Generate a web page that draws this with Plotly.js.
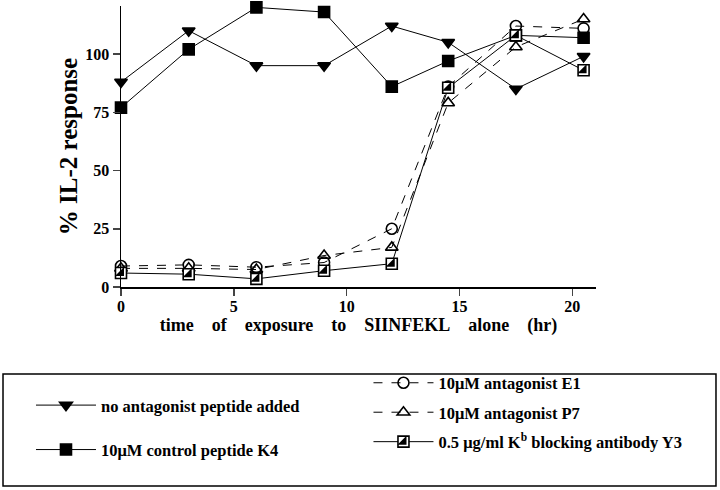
<!DOCTYPE html>
<html>
<head>
<meta charset="utf-8">
<script src="https://cdn.plot.ly/plotly-3.0.1.min.js"></script>
<style>html,body{margin:0;padding:0;background:#fff;}#chart{width:720px;height:490px;}</style>
</head>
<body>
<div id="chart"></div>
<script>
// time of exposure (hr)
const hours = [0, 3, 6, 9, 12, 14.5, 17.5, 20.5];
// % IL-2 response per condition
const noAntagonist = [88, 110, 95, 95, 112, 105, 85, 99];
const controlK4 = [77, 102, 120, 118, 86, 97, 108, 107];
const antagonistE1 = [9, 9.5, 8.5, 10.5, 25, 86, 112, 111];
const antagonistP7 = [8, 8, 7.5, 13.5, 17, 79, 103, 115];
const antibodyY3 = [6, 5.5, 3.5, 7, 10, 85.5, 108, 93];
const seriesNames = [
  'no antagonist peptide added',
  '10\u03bcM control peptide K4',
  '10\u03bcM antagonist E1',
  '10\u03bcM antagonist P7',
  '0.5 \u03bcg/ml K<sup>b</sup> blocking antibody Y3'
];
const xTicks = [0, 5, 10, 15, 20];
const yTicks = [0, 25, 50, 75, 100];

const FONT = '"Liberation Serif", "DejaVu Serif", serif';
const ms = 11;
function tr(y, name, symbol, dash, legend, group, extra) {
  return Object.assign({
    type: 'scatter', mode: 'lines+markers', x: hours, y: y, name: name,
    line: {color: '#000', width: 1, dash: dash},
    marker: {symbol: symbol, size: ms, color: '#000', line: {color: '#000', width: 1.6}},
    cliponaxis: false, legend: legend, legendgroup: group
  }, extra || {});
}
const traces = [
  tr(noAntagonist, seriesNames[0], 'triangle-down', 'solid', 'legend', 'a'),
  tr(controlK4, seriesNames[1], 'square', 'solid', 'legend', 'b'),
  tr(antagonistE1, seriesNames[2], 'circle-open', 'dash', 'legend2', 'c', {marker: {symbol: 'circle-open', size: ms, color: '#000', line: {width: 1.6}}}),
  tr(antagonistP7, seriesNames[3], 'triangle-up-open', 'dash', 'legend2', 'd', {marker: {symbol: 'triangle-up-open', size: ms, color: '#000', line: {width: 1.6}}}),
  tr(antibodyY3, seriesNames[4], 'square', 'solid', 'legend2', 'e', {marker: {symbol: 'square', size: ms, color: '#fff', line: {color: '#000', width: 1.6}}}),
  {type: 'scatter', mode: 'markers', x: hours, y: antibodyY3, name: '\u00a0', legend: 'legend3',
   marker: {symbol: 'triangle-se', size: ms - 1, color: '#000', line: {width: 0}}, cliponaxis: false}
];

const legFont = {family: FONT, size: 16.5, color: '#000', weight: 'bold'};
const layout = {
  width: 720, height: 490,
  margin: {l: 121, r: 124, t: 6, b: 203},
  paper_bgcolor: '#fff', plot_bgcolor: '#fff',
  font: {family: FONT, color: '#000'},
  xaxis: {
    range: [0, 21.05], tickvals: xTicks, ticks: 'outside', ticklen: 7, tickwidth: 1.5, ticklabelstandoff: -3,
    showline: true, linewidth: 1.5, linecolor: '#000', showgrid: false, zeroline: false,
    tickfont: {family: FONT, size: 16, weight: 'bold'},
    title: {text: 'time\u2003of\u2003exposure\u2003to\u2003SIINFEKL\u2003alone\u2003(hr)', font: {family: FONT, size: 18, weight: 'bold'}, standoff: 0}
  },
  yaxis: {
    range: [0, 120.6], tickvals: yTicks, ticks: 'outside', ticklen: 7, tickwidth: 1.5,
    showline: true, linewidth: 1.5, linecolor: '#000', showgrid: false, zeroline: false,
    tickfont: {family: FONT, size: 16, weight: 'bold'},
    title: {text: '% IL-2 response\u2002\u2009', font: {family: FONT, size: 25, weight: 'bold'}, standoff: 0}
  },
  legend: {x: -0.1895, xanchor: 'left', y: -0.359, yanchor: 'top', bgcolor: 'rgba(0,0,0,0)', font: legFont, tracegroupgap: 20, itemwidth: 60},
  legend2: {x: 0.521, xanchor: 'left', y: -0.614, yanchor: 'bottom', bgcolor: 'rgba(0,0,0,0)', font: legFont, tracegroupgap: 5, itemwidth: 60},
  legend3: {x: 0.521, xanchor: 'left', y: -0.614, yanchor: 'bottom', bgcolor: 'rgba(0,0,0,0)', font: legFont, itemwidth: 60},
  shapes: [{type: 'rect', xref: 'paper', yref: 'paper', x0: -0.2484, x1: 1.2526, y0: -0.708, y1: -0.3096, line: {color: '#000', width: 1.5}}],
  showlegend: true
};
Plotly.newPlot('chart', traces, layout, {staticPlot: true});
</script>
</body>
</html>
